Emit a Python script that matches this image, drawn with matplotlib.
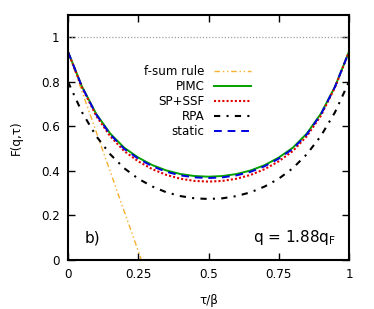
import numpy as np
import matplotlib
matplotlib.use("Agg")
import matplotlib.pyplot as plt

# tau/beta grid for the left half (curves are symmetric about 0.5)
tau_half = [0.0, 0.05, 0.1, 0.15, 0.2, 0.25, 0.3, 0.35, 0.4, 0.45, 0.5]
pimc_half = [0.935, 0.778, 0.657, 0.568, 0.504, 0.460, 0.426, 0.402, 0.386, 0.377, 0.374]
static_half = [0.935, 0.777, 0.654, 0.564, 0.499, 0.455, 0.421, 0.396, 0.380, 0.371, 0.368]
spssf_half = [0.935, 0.775, 0.648, 0.556, 0.489, 0.443, 0.408, 0.382, 0.365, 0.355, 0.352]
rpa_half = [0.800, 0.663, 0.557, 0.475, 0.412, 0.365, 0.330, 0.304, 0.287, 0.277, 0.274]
fsum_tau = [0.0, 0.3]
fsum_val = [0.935, -0.139]

def mirror(t, v):
    t = np.asarray(t); v = np.asarray(v)
    return np.concatenate([t, 1 - t[-2::-1]]), np.concatenate([v, v[-2::-1]])

fs = 8.6
fig = plt.figure(figsize=(3.74, 3.09), dpi=100)
ax = fig.add_axes([68/374, 49/309, 281/374, 245/309])

ax.axhline(1.0, color='#a0a0a0', lw=0.9, ls=(0, (1, 1.5)))
ax.plot(fsum_tau, fsum_val, color='#f8b030', lw=1.0, ls=(0, (4, 2, 1, 2, 1, 2)), label='f-sum rule')
t, v = mirror(tau_half, pimc_half)
ax.plot(t, v, color='#00a000', lw=1.4, label='PIMC')
t, v = mirror(tau_half, spssf_half)
ax.plot(t, v, color='#e00000', lw=1.5, ls=(0, (1, 1)), label='SP+SSF')
t, v = mirror(tau_half, rpa_half)
ax.plot(t, v, color='black', lw=1.5, ls=(0, (3, 3, 1, 3)), label='RPA')
t, v = mirror(tau_half, static_half)
ax.plot(t, v, color='#0000e0', lw=1.4, ls=(0, (4, 3)), label='static')

ax.set_xlim(0, 1)
ax.set_ylim(0, 1.1)
ax.set_xticks([0, 0.25, 0.5, 0.75, 1])
ax.set_xticklabels(['0', '0.25', '0.5', '0.75', '1'])
ax.set_yticks([0, 0.2, 0.4, 0.6, 0.8, 1])
ax.set_yticklabels(['0', '0.2', '0.4', '0.6', '0.8', '1'])
ax.tick_params(direction='in', top=True, right=True, length=5, width=1, labelsize=fs, pad=6)
for s in ax.spines.values():
    s.set_linewidth(1.5)

ax.set_xlabel('τ/β', fontsize=fs, labelpad=9)
ax.set_ylabel('F(q,τ)', fontsize=fs, labelpad=13)

ax.text(0.06, 0.09, 'b)', transform=ax.transAxes, fontsize=11, ha='left', va='center')
ax.text(0.955, 0.09, r'q = 1.88q$_\mathregular{F}$', transform=ax.transAxes, fontsize=11, ha='right', va='center')

ax.legend(loc='upper right', bbox_to_anchor=(0.650, 0.797), frameon=False, markerfirst=False,
          fontsize=fs, handlelength=3.1, handletextpad=0.75, labelspacing=0.18,
          borderpad=0, borderaxespad=0)

fig.savefig('out.png', dpi=100)
